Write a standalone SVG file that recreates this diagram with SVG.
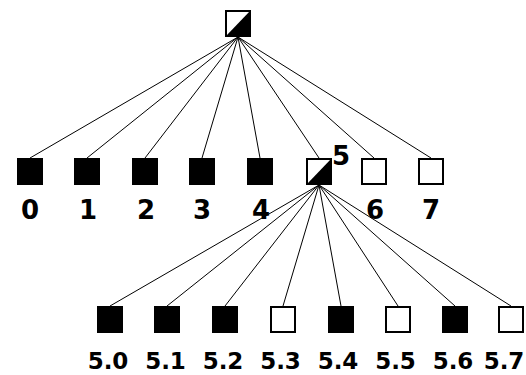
<svg xmlns="http://www.w3.org/2000/svg" width="526" height="375" viewBox="0 0 526 375">
<style>
.sq{stroke:#000;stroke-width:2}
.b{fill:#000}
.w{fill:#fff}
.tri{fill:#000;stroke:none}
.lbl{font-family:"DejaVu Sans",sans-serif;font-weight:bold;fill:#000;text-anchor:middle}
.l1{font-size:26px}
.l2{font-size:23px}
#connectors line{stroke:#000;stroke-width:1}
</style>
<rect width="526" height="375" fill="#fff"/>
<g id="connectors">
<line x1="238" y1="37" x2="30" y2="158"/>
<line x1="238" y1="37" x2="87" y2="158"/>
<line x1="238" y1="37" x2="145" y2="158"/>
<line x1="238" y1="37" x2="202" y2="158"/>
<line x1="238" y1="37" x2="260" y2="158"/>
<line x1="238" y1="37" x2="319" y2="158"/>
<line x1="238" y1="37" x2="374" y2="158"/>
<line x1="238" y1="37" x2="431" y2="158"/>
<line x1="319" y1="185" x2="110" y2="306"/>
<line x1="319" y1="185" x2="167" y2="306"/>
<line x1="319" y1="185" x2="225" y2="306"/>
<line x1="319" y1="185" x2="283" y2="306"/>
<line x1="319" y1="185" x2="341" y2="306"/>
<line x1="319" y1="185" x2="398" y2="306"/>
<line x1="319" y1="185" x2="455" y2="306"/>
<line x1="319" y1="185" x2="511" y2="306"/>
</g>
<g id="root">
<rect class="sq w" x="226" y="11" width="24" height="25"/>
<polygon class="tri" points="226,36 250,11 250,36"/>
<rect x="226" y="11" width="24" height="25" fill="none" stroke="#000" stroke-width="2"/>
</g>
<g id="n0"><rect class="sq b" x="18" y="159" width="24" height="25"/><text class="lbl l1" x="30" y="219">0</text></g>
<g id="n1"><rect class="sq b" x="75" y="159" width="24" height="25"/><text class="lbl l1" x="88" y="219">1</text></g>
<g id="n2"><rect class="sq b" x="133" y="159" width="24" height="25"/><text class="lbl l1" x="146" y="219">2</text></g>
<g id="n3"><rect class="sq b" x="190" y="159" width="24" height="25"/><text class="lbl l1" x="202" y="219">3</text></g>
<g id="n4"><rect class="sq b" x="248" y="159" width="24" height="25"/><text class="lbl l1" x="261" y="219">4</text></g>
<g id="n5">
<rect class="sq w" x="307" y="159" width="24" height="25"/>
<polygon class="tri" points="307,184 331,159 331,184"/>
<rect x="307" y="159" width="24" height="25" fill="none" stroke="#000" stroke-width="2"/>
<text class="lbl l1" x="341" y="165">5</text>
</g>
<g id="n6"><rect class="sq w" x="362" y="159" width="24" height="25"/><text class="lbl l1" x="375" y="219">6</text></g>
<g id="n7"><rect class="sq w" x="419" y="159" width="24" height="25"/><text class="lbl l1" x="431" y="219">7</text></g>
<g id="n50"><rect class="sq b" x="98" y="307" width="24" height="25"/><text class="lbl l2" x="108" y="369">5.0</text></g>
<g id="n51"><rect class="sq b" x="155" y="307" width="24" height="25"/><text class="lbl l2" x="165.5" y="369">5.1</text></g>
<g id="n52"><rect class="sq b" x="213" y="307" width="24" height="25"/><text class="lbl l2" x="223" y="369">5.2</text></g>
<g id="n53"><rect class="sq w" x="271" y="307" width="24" height="25"/><text class="lbl l2" x="280.5" y="369">5.3</text></g>
<g id="n54"><rect class="sq b" x="329" y="307" width="24" height="25"/><text class="lbl l2" x="338" y="369">5.4</text></g>
<g id="n55"><rect class="sq w" x="386" y="307" width="24" height="25"/><text class="lbl l2" x="395.5" y="369">5.5</text></g>
<g id="n56"><rect class="sq b" x="443" y="307" width="24" height="25"/><text class="lbl l2" x="453" y="369">5.6</text></g>
<g id="n57"><rect class="sq w" x="499" y="307" width="24" height="25"/><text class="lbl l2" x="504" y="369">5.7</text></g>
</svg>
